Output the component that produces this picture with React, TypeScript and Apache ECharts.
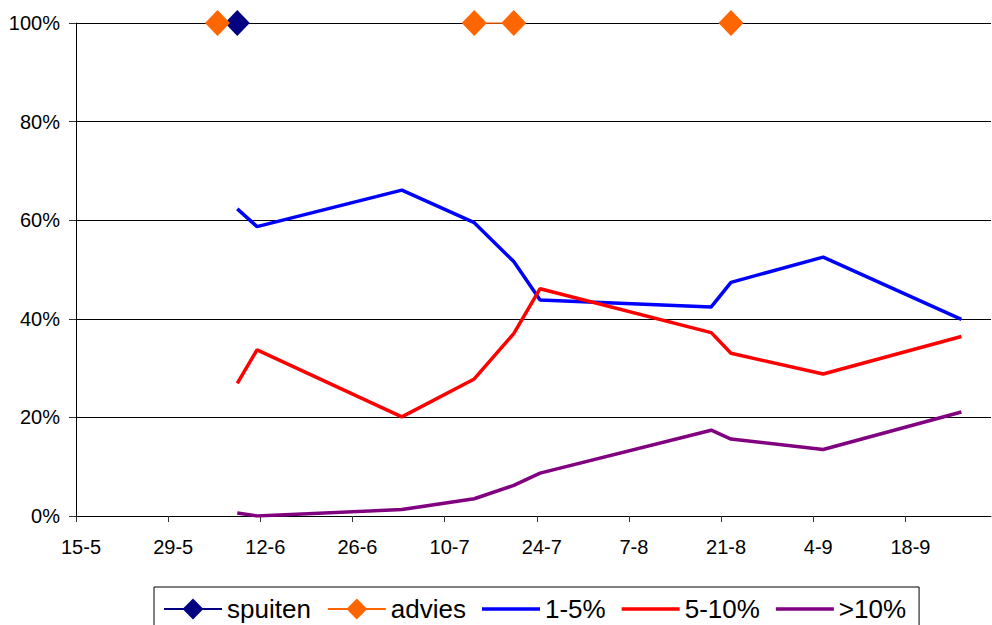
import React, { useEffect, useRef } from 'react';
import * as echarts from 'echarts';

// Axis range (date axis, day slots)
const AXIS_START = '2007-05-15';
const AXIS_END = '2007-10-01';
const tickLabels = ['15-5', '29-5', '12-6', '26-6', '10-7', '24-7', '7-8', '21-8', '4-9', '18-9'];
const TICK_STEP_DAYS = 14;

// Observation dates and percentages
const obsDates = [
  '2007-06-08', '2007-06-11', '2007-07-03', '2007-07-14', '2007-07-20',
  '2007-07-24', '2007-08-19', '2007-08-22', '2007-09-05', '2007-09-26',
];
const pct1to5 = [62.3, 58.7, 66.1, 59.5, 51.6, 43.8, 42.4, 47.4, 52.5, 39.9];
const pct5to10 = [26.9, 33.7, 20.1, 27.8, 37.0, 46.1, 37.2, 33.0, 28.8, 36.4];
const pctOver10 = [0.6, 0.0, 1.3, 3.5, 6.2, 8.7, 17.4, 15.6, 13.5, 21.1];

// Spraying and advice markers (null = no entry, breaks the line)
const spuitenDates = ['2007-06-08'];
const spuitenValues = [100];
const adviesDates = ['2007-06-05', '2007-06-08', '2007-07-14', '2007-07-20', '2007-07-24', '2007-08-22'];
const adviesValues: (number | null)[] = [100, null, 100, 100, null, 100];

const DAY = 86400000;
const toUTC = (s: string) => {
  const [y, m, d] = s.split('-').map(Number);
  return Date.UTC(y, m - 1, d);
};
const dayOf = (s: string) => Math.round((toUTC(s) - toUTC(AXIS_START)) / DAY);
// points sit in the middle of their day slot
const pos = (s: string) => dayOf(s) + 0.5;

const pair = (dates: string[], vals: (number | null)[]) =>
  dates.map((d, i) => [pos(d), vals[i] === null ? '-' : vals[i]]);

const FONT = "'Liberation Sans', Arial, sans-serif";
// plain line legend icon (58 x 26 box, 3.5px bar in the middle)
const LINE_ICON = 'path://M0,0L0.01,0Z M0,26L0.01,26Z M0,11.25L58,11.25L58,14.75L0,14.75Z';

export default function App() {
  const ref = useRef<HTMLDivElement>(null);
  useEffect(() => {
    if (!ref.current) return;
    const chart = echarts.init(ref.current, undefined, { renderer: 'svg' });
    const tickValues = tickLabels.map((_, i) => i * TICK_STEP_DAYS);
    chart.setOption({
      animation: false,
      backgroundColor: '#ffffff',
      textStyle: { fontFamily: FONT },
      grid: { left: 76, right: 1, top: 23, bottom: 109, containLabel: false },
      xAxis: {
        type: 'value',
        min: 0,
        max: dayOf(AXIS_END),
        interval: TICK_STEP_DAYS,
        splitLine: { show: false },
        axisLine: { show: true, onZero: false, lineStyle: { color: '#000', width: 1 } },
        axisTick: {
          show: true,
          length: 6,
          lineStyle: { color: '#333', width: 1 },
          customValues: tickValues,
        },
        axisLabel: {
          customValues: tickValues,
          color: '#000',
          fontSize: 20,
          fontFamily: FONT,
          margin: 21,
          padding: [0, 0, 0, 10],
          formatter: (v: number) => {
            const i = Math.round(v / TICK_STEP_DAYS);
            return Math.abs(v - i * TICK_STEP_DAYS) < 1e-6 && tickLabels[i] ? tickLabels[i] : '';
          },
        },
      },
      yAxis: {
        type: 'value',
        min: 0,
        max: 100,
        interval: 20,
        axisLine: { show: true, lineStyle: { color: '#000', width: 1 } },
        axisTick: { show: true, length: 7, lineStyle: { color: '#333', width: 1 } },
        splitLine: { show: true, lineStyle: { color: '#000', width: 1 } },
        axisLabel: {
          color: '#000',
          fontSize: 20,
          fontFamily: FONT,
          margin: 16,
          formatter: '{value}%',
        },
      },
      legend: {
        left: 154,
        top: 587,
        padding: [9, 13, 9, 9],
        borderColor: '#000',
        borderWidth: 1,
        itemGap: 16,
        itemWidth: 58,
        itemHeight: 26,
        textStyle: { fontSize: 26, color: '#000', fontFamily: FONT },
        data: [
          { name: 'spuiten' },
          { name: 'advies' },
          { name: '1-5%', icon: LINE_ICON },
          { name: '5-10%', icon: LINE_ICON },
          { name: '>10%', icon: LINE_ICON },
        ],
      },
      series: [
        {
          name: 'spuiten',
          type: 'line',
          data: pair(spuitenDates, spuitenValues),
          symbol: 'diamond',
          symbolSize: [25, 26],
          itemStyle: { color: '#000080' },
          lineStyle: { color: '#000080', width: 1.5 },
          z: 3,
        },
        {
          name: 'advies',
          type: 'line',
          data: pair(adviesDates, adviesValues),
          connectNulls: false,
          symbol: 'diamond',
          symbolSize: [25, 26],
          itemStyle: { color: '#FF6600' },
          lineStyle: { color: '#FF6600', width: 1.5 },
          z: 4,
        },
        {
          name: '1-5%',
          type: 'line',
          data: pair(obsDates, pct1to5),
          symbol: 'none',
          itemStyle: { color: '#0000FF' },
          lineStyle: { color: '#0000FF', width: 3.5 },
        },
        {
          name: '5-10%',
          type: 'line',
          data: pair(obsDates, pct5to10),
          symbol: 'none',
          itemStyle: { color: '#FF0000' },
          lineStyle: { color: '#FF0000', width: 3.5 },
        },
        {
          name: '>10%',
          type: 'line',
          data: pair(obsDates, pctOver10),
          symbol: 'none',
          itemStyle: { color: '#800080' },
          lineStyle: { color: '#800080', width: 3.5 },
        },
      ],
    });
    return () => chart.dispose();
  }, []);
  return (
    <div
      ref={ref}
      style={{ position: 'absolute', left: 0, top: 0, width: 992, height: 625, background: '#fff' }}
    />
  );
}
